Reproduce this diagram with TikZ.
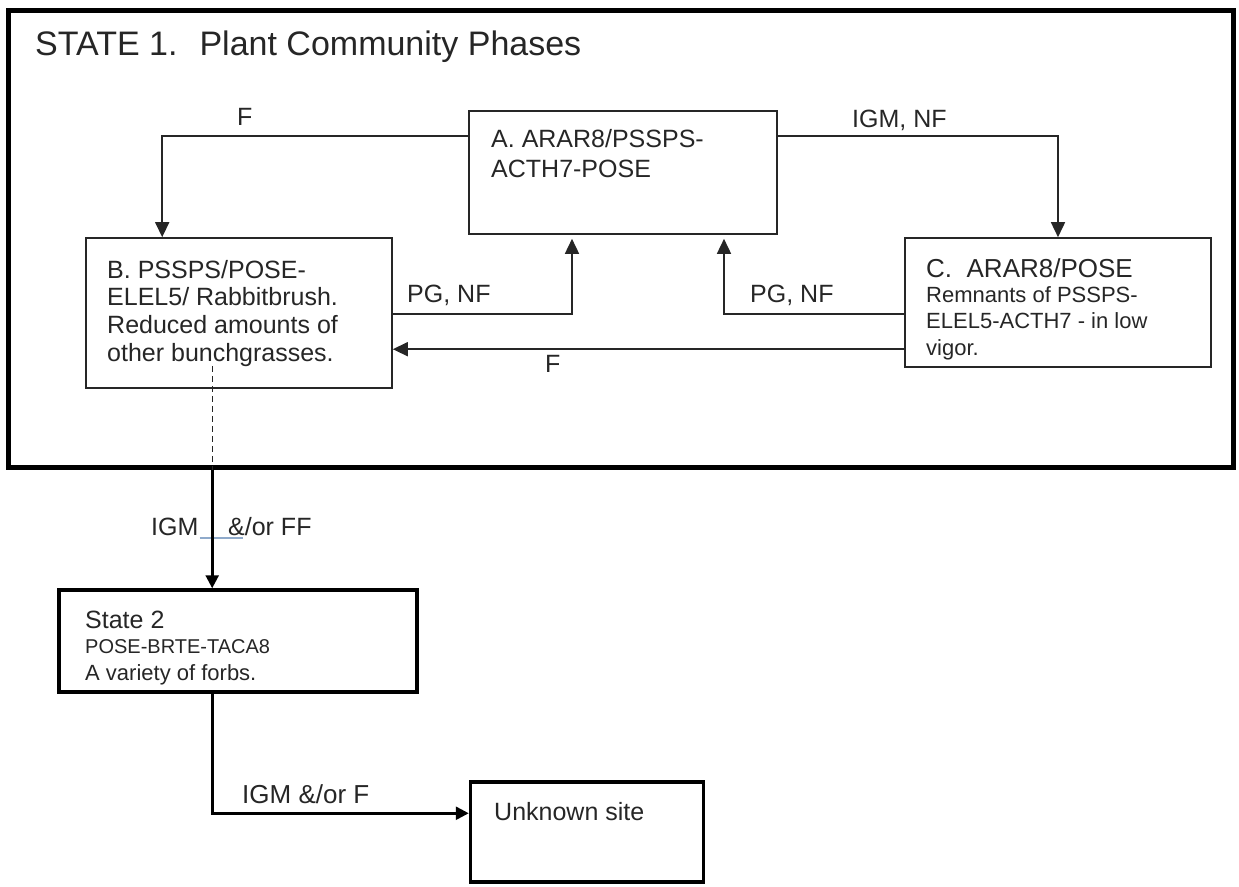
\documentclass[tikz,border=0pt]{standalone}
\usepackage{fontspec}
\setmainfont{Liberation Sans}
\usetikzlibrary{arrows.meta}
\definecolor{ink}{HTML}{262626}
\definecolor{uline}{HTML}{8FAACB}
\begin{document}
\begin{tikzpicture}[x=1pt,y=-1pt,
  frame/.style={draw=black, line width=5pt, inner sep=0pt},
  box/.style={draw=ink, line width=1.6pt, inner sep=0pt},
  tbox/.style={draw=black, line width=3.5pt, inner sep=0pt},
  conn/.style={draw=ink, line width=1.6pt, -{Triangle[length=15pt,width=14pt]}},
  tconn/.style={draw=black, line width=2.6pt, -{Triangle[length=13pt,width=13pt]}},
  txt/.style={anchor=base west, inner sep=0pt, text=ink, font=\fontsize{#1}{#1}\selectfont},
  txt/.default=25]
\useasboundingbox (0,0) rectangle (1239,886);
% boxes
\node[frame, minimum width=1225pt, minimum height=457pt] (S1) at (620.5,238.5) {};
\node[box, minimum width=308pt, minimum height=123pt] (A) at (623,172.5) {};
\node[box, minimum width=306pt, minimum height=150pt] (B) at (239,313) {};
\node[box, minimum width=306pt, minimum height=129pt] (C) at (1058,302.5) {};
\node[tbox, minimum width=358pt, minimum height=102pt] (S2) at (238,641) {};
\node[tbox, minimum width=233pt, minimum height=100pt] (U) at (587,832) {};
% texts
\node[txt=34] (title) at (35,55) {STATE 1.~ Plant Community Phases};
\node[txt] (a1) at (491,147) {A. ARAR8/PSSPS-};
\node[txt] (a2) at (491,177) {ACTH7-POSE};
\node[txt] (b1) at (107,278) {B. PSSPS/POSE-};
\node[txt] (b2) at (107,305) {ELEL5/ Rabbitbrush.};
\node[txt] (b3) at (107,333) {Reduced amounts of};
\node[txt] (b4) at (107,361) {other bunchgrasses.};
\node[txt=26] (c1) at (926,277) {C.~ ARAR8/POSE};
\node[txt=22] (c2) at (926,302) {Remnants of PSSPS-};
\node[txt=22] (c3) at (926,328) {ELEL5-ACTH7 - in low};
\node[txt=22] (c4) at (926,355) {vigor.};
\node[txt=25] (s1) at (85,628) {State 2};
\node[txt=20] (s2) at (85,653) {POSE-BRTE-TACA8};
\node[txt=22] (s3) at (85,680) {A variety of forbs.};
\node[txt=25] (u1) at (494,820) {Unknown site};
% connector labels
\node[txt] (lF1) at (237,125) {F};
\node[txt] (lIGM) at (852,127) {IGM, NF};
\node[txt] (lPG1) at (407,302) {PG, NF};
\node[txt] (lPG2) at (750,302) {PG, NF};
\node[txt] (lF2) at (545,372) {F};
\node[txt] (lS2a) at (151,535) {IGM};
\node[txt] (lS2b) at (228,535) {\&/or FF};
\node[txt=26] (lU) at (242,803) {IGM \&/or F};
\draw[uline, line width=2pt] (lS2a.base east) ++(1,3) coordinate (ul1) -- (lS2b.base west |- ul1) -- ++(15,0);
% connectors
\draw[conn] ([yshift=-26pt]A.north west) -| ([xshift=77pt]B.north west);
\draw[conn] ([yshift=-26pt]A.north east) -| (C.north);
\draw[conn, shorten >=4pt] ([yshift=-77pt]B.north east) -| ([xshift=-51pt]A.south);
\draw[conn, shorten >=4pt] ([yshift=-77pt]C.north west) -| ([xshift=101pt]A.south);
\coordinate (fc) at ([yshift=-112pt]C.north west);
\draw[conn] (fc) -- (B.east |- fc);
\coordinate (ds) at ([xshift=127pt,yshift=23pt]B.south west);
\draw[draw=ink, line width=1.3pt, dash pattern=on 6pt off 4pt] (ds) -- (ds |- S1.south);
\draw[tconn] (ds |- S1.south) -- (ds |- S2.north);
\draw[tconn] (ds |- S2.south) |- ([yshift=-33pt]U.north west);
\end{tikzpicture}
\end{document}
